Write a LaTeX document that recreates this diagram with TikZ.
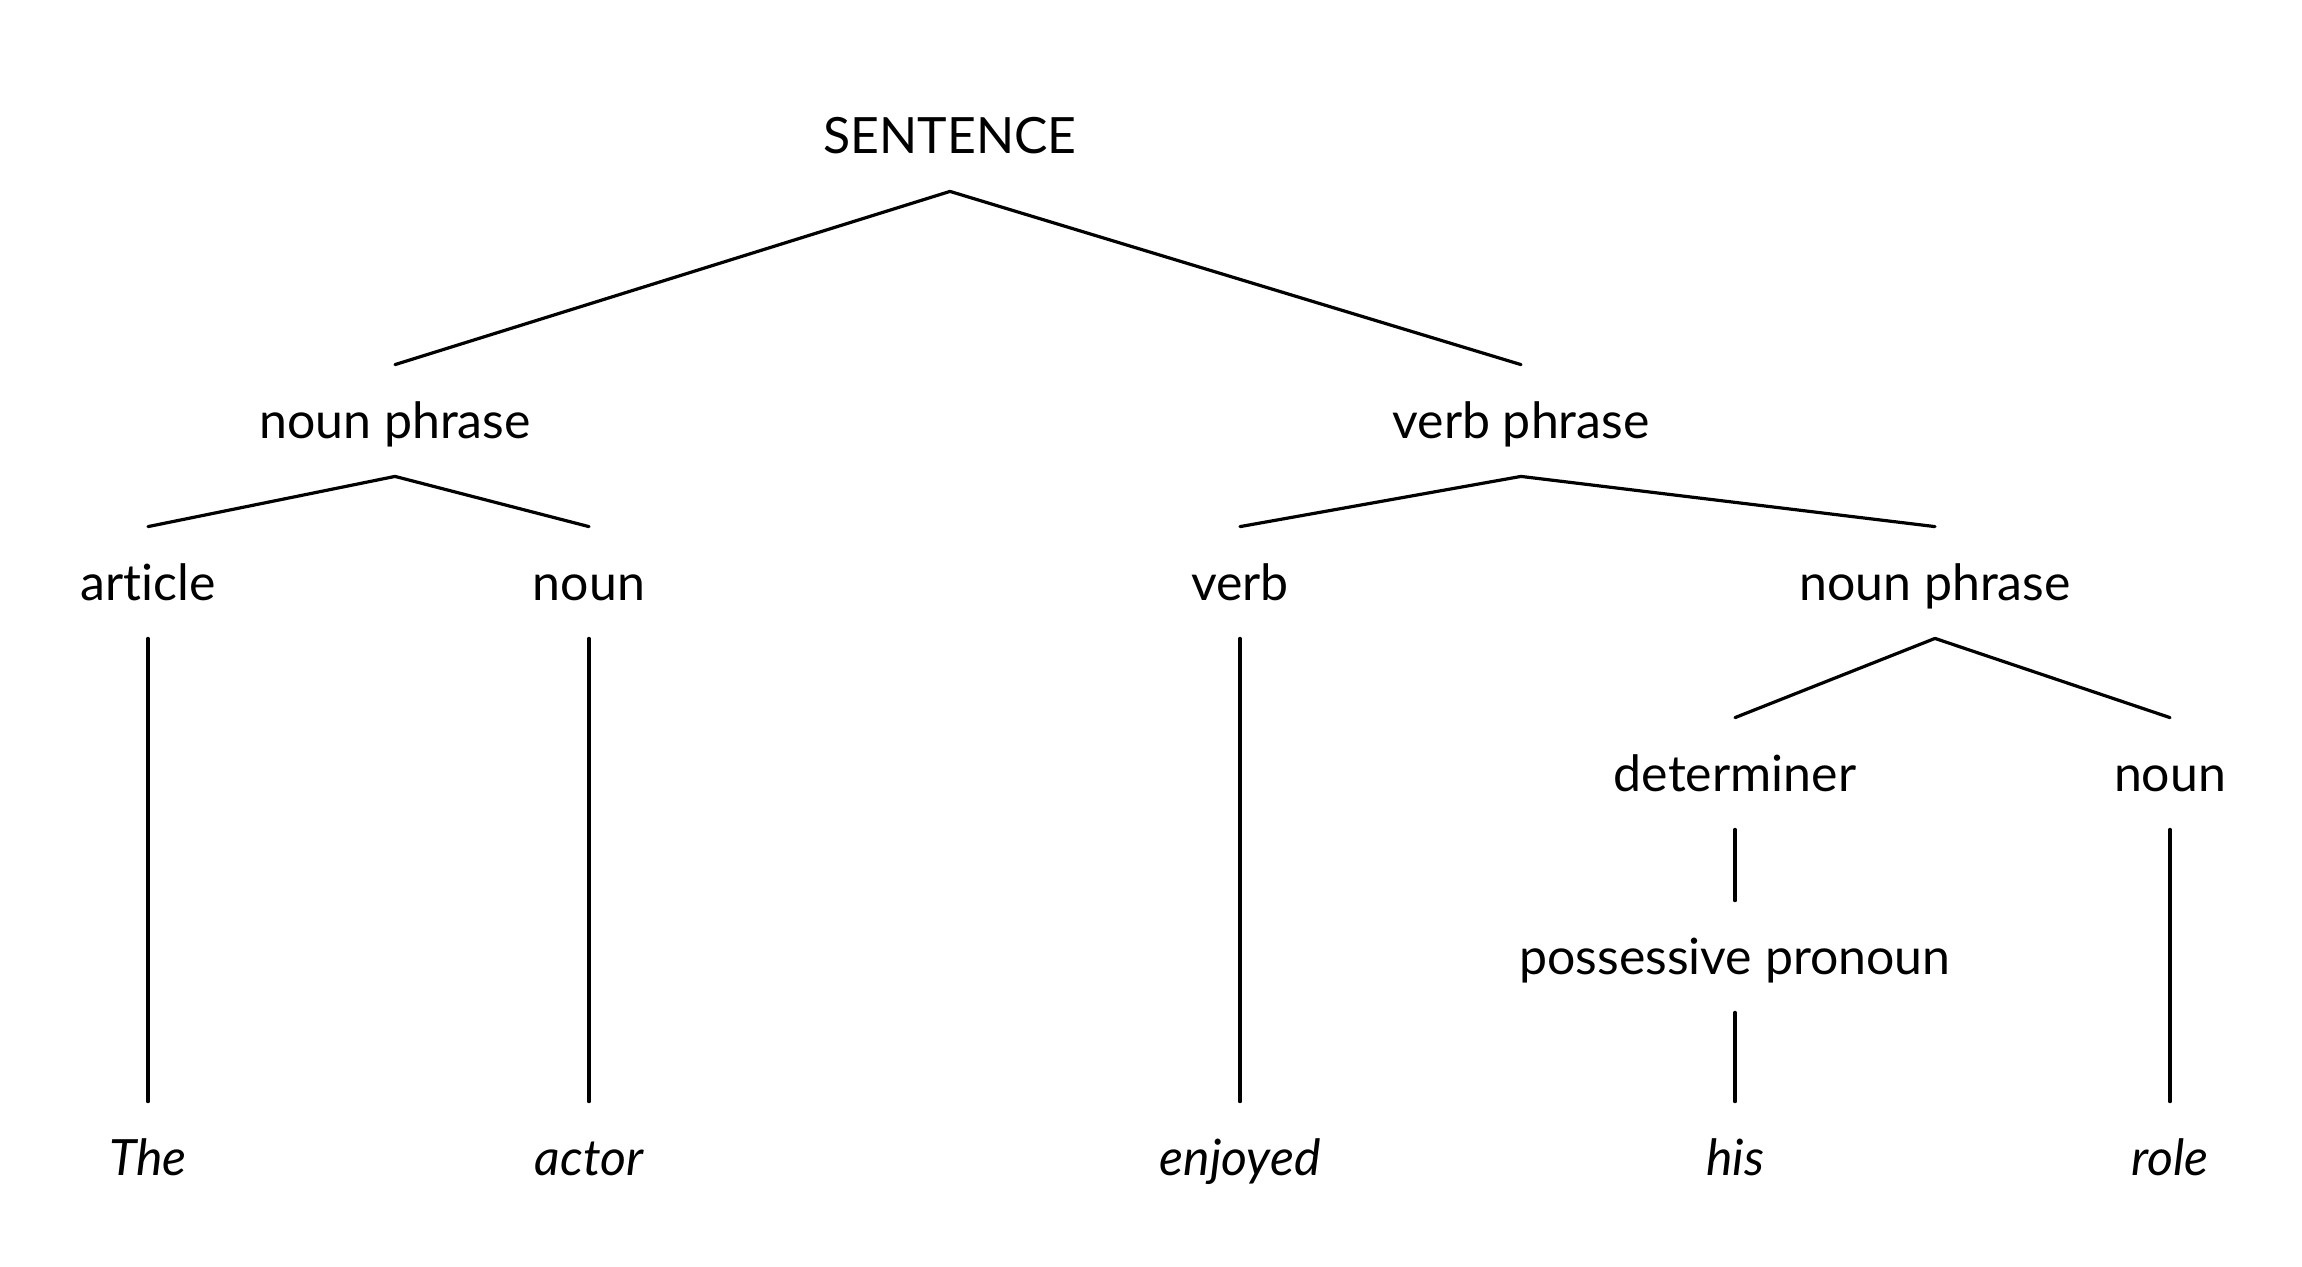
\documentclass[tikz,border=0pt]{standalone}
\usepackage{fontspec}
\setmainfont{Lato}[Ligatures=CommonOff, Contextuals=NoAlternate]
\usetikzlibrary{positioning}

\begin{document}
\begin{tikzpicture}[
    x=0.5pt, y=-0.5pt,
    cat/.style={anchor=base, inner xsep=2pt, inner ysep=0pt, text height=36.5pt, text depth=19pt, font=\fontsize{25}{30}\selectfont}, % fixed box: lines meet top/bottom
    leaf/.style={cat, font=\fontsize{25}{30}\selectfont\itshape},
    branch/.style={line width=1.6pt, line cap=round}
]
\useasboundingbox (0,0) rectangle (2302,1266);

% Root
\node[cat] (sent) at (950,153) {SENTENCE};

% Phrases
\node[cat] (np_subj) at (395,438) {noun phrase};
\node[cat] (vp) at (1521,438) {verb phrase};

% Word classes
\node[cat] (art) at (148,600) {art\kern0pt icle}; % no t-i ligature
\node[cat] (noun_subj) at (589,600) {noun};
\node[cat] (verb) at (1240,600) {verb};
\node[cat] (np_obj) at (1935,600) {noun phrase};

\node[cat] (det) at (1735,791) {determiner};
\node[cat] (noun_obj) at (2170,791) {noun};
\node[cat] (poss) at (1735,974) {possessive pronoun};

% Words of the sentence
\node[leaf] (w_the) at (148,1175) {The};
\node[leaf] (w_actor) at (589,1175) {actor};
\node[leaf] (w_enjoyed) at (1240,1175) {enjoyed};
\node[leaf] (w_his) at (1735,1175) {his};
\node[leaf] (w_role) at (2170,1175) {role};

% Branches
\draw[branch] (sent.south) -- (np_subj.north);
\draw[branch] (sent.south) -- (vp.north);
\draw[branch] (np_subj.south) -- (art.north);
\draw[branch] (np_subj.south) -- (noun_subj.north);
\draw[branch] (vp.south) -- (verb.north);
\draw[branch] (vp.south) -- (np_obj.north);
\draw[branch] (np_obj.south) -- (det.north);
\draw[branch] (np_obj.south) -- (noun_obj.north);
\draw[branch] (det.south) -- (poss.north);
\draw[branch] (art.south) -- (w_the.north);
\draw[branch] (noun_subj.south) -- (w_actor.north);
\draw[branch] (verb.south) -- (w_enjoyed.north);
\draw[branch] (poss.south) -- (w_his.north);
\draw[branch] (noun_obj.south) -- (w_role.north);

\end{tikzpicture}
\end{document}
